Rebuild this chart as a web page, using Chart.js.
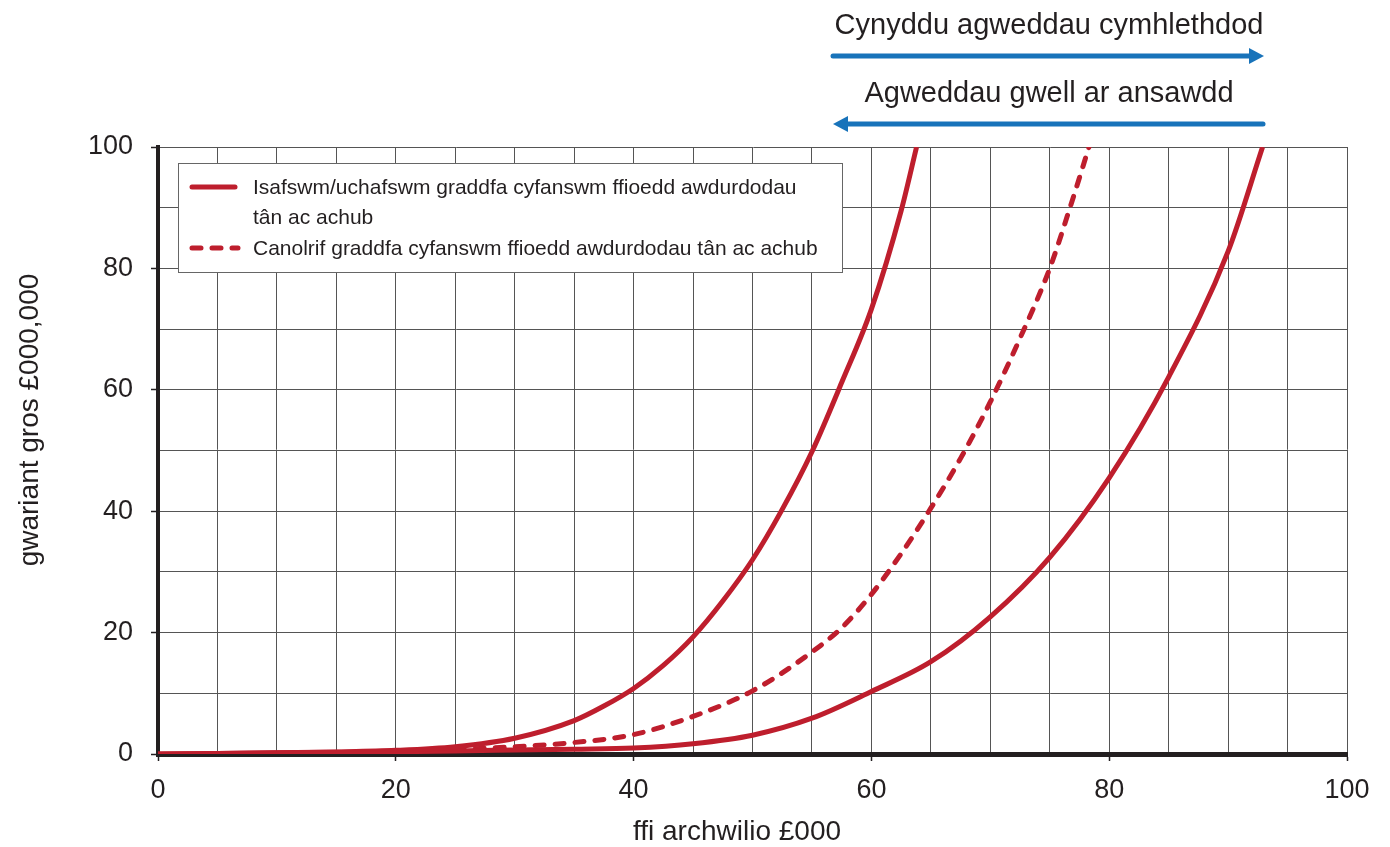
<!DOCTYPE html>
<html>
<head>
<meta charset="utf-8">
<script src="https://cdn.jsdelivr.net/npm/chart.js@4.4.1/dist/chart.umd.min.js"></script>
<style>
  html, body { margin: 0; padding: 0; background: #fff; }
</style>
</head>
<body>
<canvas id="myChart" width="1390" height="847"></canvas>
<script>
// values
const upperX = [0, 5, 10, 15, 20, 25, 30, 35, 37.5, 40, 42.5, 45, 47.5, 50, 52.5, 55, 57.5, 60, 62.5, 63.8];
const upperY = [0, 0.1, 0.2, 0.35, 0.6, 1.2, 2.6, 5.5, 7.9, 10.8, 14.6, 19.3, 25.2, 32, 40.3, 49.8, 61.2, 73.3, 89.5, 100];

const lowerX = [0, 5, 10, 15, 20, 25, 30, 35, 40, 45, 50, 55, 60, 65, 70, 75, 80, 85, 90, 92.9];
const lowerY = [0, 0.1, 0.2, 0.3, 0.4, 0.5, 0.65, 0.8, 1.0, 1.7, 3.1, 5.9, 10.3, 15.2, 22.6, 32.4, 45.5, 62.1, 82.8, 100];

const midX = [25, 30, 35, 40, 45, 50, 55, 57.5, 60, 62.5, 65, 67.5, 70, 72.5, 75, 76.7, 78.3];
const midY = [0.7, 1.2, 1.9, 3.2, 6.2, 10.4, 16.8, 20.8, 26.3, 33, 40.5, 48.7, 58, 68.5, 80, 90, 100];

const xTickLabels = ['0', '20', '40', '60', '80', '100'];
const yTickLabels = ['0', '20', '40', '60', '80', '100'];

const legendSolid = ['Isafswm/uchafswm graddfa cyfanswm ffioedd awdurdodau', 'tân ac achub'];
const legendDashed = 'Canolrif graddfa cyfanswm ffioedd awdurdodau tân ac achub';
const xTitle = 'ffi archwilio £000';
const yTitle = 'gwariant gros £000,000';
const arrowRight = 'Cynyddu agweddau cymhlethdod';
const arrowLeft = 'Agweddau gwell ar ansawdd';

const red = 'rgb(190, 30, 45)';
const blue = 'rgb(24, 115, 186)';
const ink = '#231f20';
const font = '"Liberation Sans", Arial, sans-serif';
const dash = [9, 11];

Chart.defaults.font.family = font;

function pts(xs, ys) {
  return xs.map((x, i) => ({ x: x, y: ys[i] }));
}

function label20(list) {
  return function (v) {
    const s = String(v);
    return list.includes(s) ? s : '';
  };
}

function arrow(c, x1, x2, y) {
  const dir = x2 > x1 ? 1 : -1;
  const head = 15;
  c.strokeStyle = blue;
  c.fillStyle = blue;
  c.lineWidth = 5;
  c.beginPath();
  c.moveTo(x1, y);
  c.lineTo(x2 - dir * head, y);
  c.stroke();
  c.beginPath();
  c.moveTo(x2, y);
  c.lineTo(x2 - dir * head, y - 8);
  c.lineTo(x2 - dir * head, y + 8);
  c.closePath();
  c.fill();
}

const extras = {
  id: 'extras',
  afterDatasetsDraw(chart) {
    const c = chart.ctx;
    c.save();

    // legend box
    c.fillStyle = '#fff';
    c.fillRect(178, 163, 664, 109);
    c.strokeStyle = '#666';
    c.lineWidth = 1;
    c.strokeRect(178.5, 163.5, 664, 109);

    c.strokeStyle = red;
    c.lineWidth = 5;
    c.lineCap = 'round';
    c.beginPath();
    c.moveTo(192, 187);
    c.lineTo(235, 187);
    c.stroke();
    c.setLineDash(dash);
    c.beginPath();
    c.moveTo(192, 248);
    c.lineTo(238, 248);
    c.stroke();
    c.setLineDash([]);

    c.fillStyle = ink;
    c.font = '21px ' + font;
    c.textBaseline = 'alphabetic';
    c.textAlign = 'left';
    c.fillText(legendSolid[0], 253, 194);
    c.fillText(legendSolid[1], 253, 224);
    c.fillText(legendDashed, 253, 255);

    // axis titles
    c.font = '28px ' + font;
    c.textAlign = 'center';
    c.fillText(xTitle, 737, 840);
    c.save();
    c.translate(38, 420);
    c.rotate(-Math.PI / 2);
    c.fillText(yTitle, 0, 0);
    c.restore();

    // arrows on top
    c.font = '29px ' + font;
    c.fillText(arrowRight, 1049, 34);
    c.fillText(arrowLeft, 1049, 102);
    arrow(c, 833, 1264, 56);
    arrow(c, 1263, 833, 124);

    c.restore();
  }
};

const ctx = document.getElementById('myChart');

new Chart(ctx, {
  type: 'line',
  data: {
    datasets: [{
      label: legendSolid.join(' '),
      data: pts(upperX, upperY),
      borderColor: red,
      borderWidth: 5,
      pointRadius: 0,
      cubicInterpolationMode: 'monotone'
    }, {
      label: 'lower',
      data: pts(lowerX, lowerY),
      borderColor: red,
      borderWidth: 5,
      pointRadius: 0,
      cubicInterpolationMode: 'monotone'
    }, {
      label: legendDashed,
      data: pts(midX, midY),
      borderColor: red,
      borderWidth: 5,
      borderDash: dash,
      borderCapStyle: 'round',
      pointRadius: 0,
      cubicInterpolationMode: 'monotone'
    }]
  },
  options: {
    responsive: false,
    animation: false,
    devicePixelRatio: 1,
    layout: { padding: { top: 147, right: 43, left: 0, bottom: 0 } },
    plugins: {
      legend: { display: false },
      tooltip: { enabled: false }
    },
    scales: {
      x: {
        type: 'linear',
        min: 0,
        max: 100,
        afterFit(scale) { scale.height = 93; },
        ticks: {
          stepSize: 5,
          autoSkip: false,
          maxRotation: 0,
          padding: 13,
          color: ink,
          font: { size: 27 },
          callback: label20(xTickLabels)
        },
        grid: {
          color: '#555',
          lineWidth: 1,
          tickLength: 7,
          tickWidth: 1.5,
          tickColor: c => (c.tick && c.tick.value % 20 === 0) ? ink : 'rgba(0,0,0,0)'
        },
        border: { color: ink, width: 5 }
      },
      y: {
        min: 0,
        max: 100,
        afterFit(scale) { scale.width = 158; },
        ticks: {
          stepSize: 10,
          autoSkip: false,
          padding: 18,
          color: ink,
          font: { size: 27 },
          callback: label20(yTickLabels)
        },
        grid: {
          color: '#555',
          lineWidth: 1,
          tickLength: 7,
          tickWidth: 1.5,
          tickColor: c => (c.tick && c.tick.value % 20 === 0) ? ink : 'rgba(0,0,0,0)'
        },
        border: { color: ink, width: 4 }
      }
    }
  },
  plugins: [extras]
});
</script>
</body>
</html>
